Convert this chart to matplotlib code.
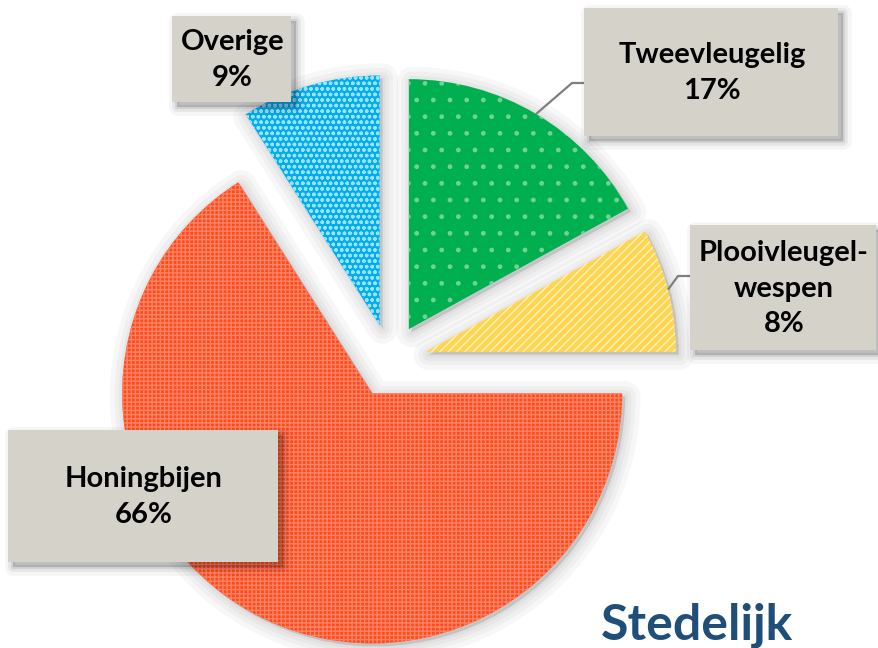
import matplotlib
matplotlib.use('Agg')
import matplotlib.pyplot as plt
from matplotlib.patches import Wedge, Rectangle
import matplotlib.transforms as mtransforms
import numpy as np

# ---- data ----
categories = ['Tweevleugelig', 'Plooivleugel-\nwespen', 'Honingbijen', 'Overige']
values = [17, 8, 66, 9]
pct_labels = ['17%', '8%', '66%', '9%']
title = 'Stedelijk'

# ---- styles ----
colors = ['#00b050', '#ffd54f', '#ff4a1c', '#00aeef']
hatch_colors = ['#6fd397', '#fff3c4', '#ff8466', '#9fe2ff']
hatches = ['.', '////', '++++', 'ooo']
box_color = '#d5d2ca'
font = ['Lato', 'DejaVu Sans']

W, H = 879, 648
CX, CY, R = 390, 361, 250   # pie centre and radius in pixels

plt.rcParams['hatch.linewidth'] = 1.0

fig = plt.figure(figsize=(W / 100, H / 100), dpi=100)
ax = fig.add_axes([0, 0, 1, 1])

wedges, _ = ax.pie(values, startangle=90, counterclock=False,
                   explode=[0.148] * len(values), radius=1.0, center=(0, 0),
                   colors=colors, wedgeprops=dict(linewidth=0))
ax.set_aspect('auto')
ax.set_xlim(-CX / R, (W - CX) / R)
ax.set_ylim(-(H - CY) / R, CY / R)
ax.axis('off')

# pixel transform (origin top-left)
trans_px = mtransforms.Affine2D().scale(1 / 100, -1 / 100).translate(0, H / 100) + fig.dpi_scale_trans

# soft shadows behind wedges
shadow_off = mtransforms.ScaledTranslation(3 / 100, -3 / 100, fig.dpi_scale_trans)
for w in wedges:
    for lw in [22, 15, 9, 4]:
        s = Wedge(w.center, w.r, w.theta1, w.theta2, facecolor='#000000',
                  edgecolor='#000000', linewidth=lw, alpha=0.03,
                  joinstyle='round', transform=ax.transData + shadow_off, zorder=0)
        ax.add_patch(s)

for w, hc, h in zip(wedges, hatch_colors, hatches):
    w.set_hatch(h)
    w.set_edgecolor(hc)
    w.set_linewidth(0)
    w.set_zorder(2)

# ---- label layout (pixels: left, top, right, bottom) ----
boxes = [
    (584, 8, 838, 136),
    (690, 225, 876, 350),
    (8, 430, 278, 562),
    (172, 16, 291, 102),
]
elbows = [((572, 83), (584, 83)), ((678, 276), (690, 276)), None, None]


def data_to_px(x, y):
    return CX + R * x, CY - R * y


for i, (w, box) in enumerate(zip(wedges, boxes)):
    l, t, r, b = box
    # shadow
    for k, (lw, a) in enumerate([(12, 0.04), (7, 0.06), (3, 0.08)]):
        ax.add_patch(Rectangle((l + 5, t + 5), r - l, b - t, facecolor='#000000',
                               edgecolor='#000000', linewidth=lw, alpha=a,
                               joinstyle='round', transform=trans_px, zorder=4))
    ax.add_patch(Rectangle((l, t), r - l, b - t, facecolor=box_color,
                           edgecolor='none', transform=trans_px, zorder=5))
    ax.text((l + r) / 2 + 1, (t + b) / 2 + 1, categories[i] + '\n' + pct_labels[i],
            ha='center', va='center', fontsize=21, fontweight='bold',
            family=font, color='#000000', linespacing=1.45,
            transform=trans_px, zorder=6)
    if elbows[i] is not None:
        mid = np.deg2rad((w.theta1 + w.theta2) / 2)
        sx, sy = data_to_px(w.center[0] + w.r * np.cos(mid), w.center[1] + w.r * np.sin(mid))
        (ex, ey), (fx, fy) = elbows[i]
        ax.plot([sx, ex, fx], [sy, ey, fy], color='#7f7f7f', linewidth=1.6,
                transform=trans_px, zorder=3, solid_capstyle='butt')

ax.text(697, 640, title, ha='center', va='baseline', fontsize=36,
        fontweight='bold', family=font, color='#1f4e79', transform=trans_px, zorder=6)

fig.savefig('out.png', dpi=100)
